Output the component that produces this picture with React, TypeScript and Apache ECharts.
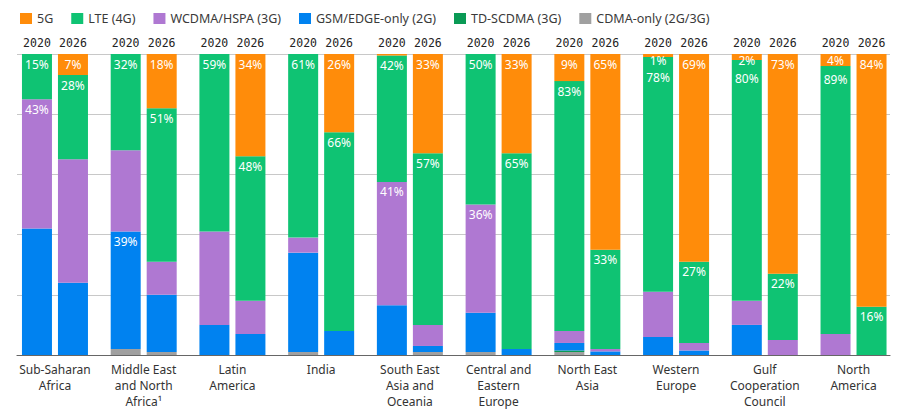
import React, { useEffect, useRef } from "react";
import * as echarts from "echarts";

// Regions along the x axis
const regions = [
  "Sub-Saharan\nAfrica",
  "Middle East\nand North\nAfrica¹",
  "Latin\nAmerica",
  "India",
  "South East\nAsia and\nOceania",
  "Central and\nEastern\nEurope",
  "North East\nAsia",
  "Western\nEurope",
  "Gulf\nCooperation\nCouncil",
  "North\nAmerica",
];

const years = ["2020", "2026"];

// Subscription share by technology (%), 2020
const g5_2020 = [0, 0, 0, 0, 0.5, 0, 9, 1, 2, 4];
const lte_2020 = [15, 32, 59, 61, 42, 50, 83, 78, 80, 89];
const wcdma_2020 = [43, 27, 31, 5, 41, 36, 4, 15, 8, 7];
const gsm_2020 = [42, 39, 10, 33, 16.5, 13, 2.5, 6, 10, 0];
const td_2020 = [0, 0, 0, 0, 0, 0, 0.5, 0, 0, 0];
const cdma_2020 = [0, 2, 0, 1, 0, 1, 1, 0, 0, 0];

// Subscription share by technology (%), 2026
const g5_2026 = [7, 18, 34, 26, 33, 33, 65, 69, 73, 84];
const lte_2026 = [28, 51, 48, 66, 57, 65, 33, 27, 22, 16];
const wcdma_2026 = [41, 11, 11, 0, 7, 0, 0.8, 2.5, 5, 0];
const gsm_2026 = [24, 19, 7, 8, 2, 2, 1.2, 1.5, 0, 0];
const td_2026 = [0, 0, 0, 0, 0, 0, 0, 0, 0, 0];
const cdma_2026 = [0, 1, 0, 0, 1, 0, 0, 0, 0, 0];

// Which region indices carry a value label
const all = [0, 1, 2, 3, 4, 5, 6, 7, 8, 9];
const labelled_2020 = {
  g5: [6, 7, 8, 9],
  lte: all,
  wcdma: [0, 4, 5],
  gsm: [1],
  td: [] as number[],
  cdma: [] as number[],
};
const labelled_2026 = {
  g5: all,
  lte: all,
  wcdma: [] as number[],
  gsm: [] as number[],
  td: [] as number[],
  cdma: [] as number[],
};

// Small vertical nudges so neighbouring labels on thin segments don't collide
const nudge_2020: Record<string, Record<number, number>> = {
  g5: { 7: -4, 8: -3.5, 9: -3.5 },
  lte: { 7: 10, 8: 8, 9: 3.5 },
};

// Stack order, bottom to top
const techs = [
  { key: "cdma", name: "CDMA-only (2G/3G)", color: "#A0A0A0" },
  { key: "td", name: "TD-SCDMA (3G)", color: "#0A9A55" },
  { key: "gsm", name: "GSM/EDGE-only (2G)", color: "#0082F0" },
  { key: "wcdma", name: "WCDMA/HSPA (3G)", color: "#AF78D2" },
  { key: "lte", name: "LTE (4G)", color: "#0FC373" },
  { key: "g5", name: "5G", color: "#FF8C0A" },
];

const values: Record<string, Record<string, number[]>> = {
  "2020": { g5: g5_2020, lte: lte_2020, wcdma: wcdma_2020, gsm: gsm_2020, td: td_2020, cdma: cdma_2020 },
  "2026": { g5: g5_2026, lte: lte_2026, wcdma: wcdma_2026, gsm: gsm_2026, td: td_2026, cdma: cdma_2026 },
};
const labelled: Record<string, Record<string, number[]>> = {
  "2020": labelled_2020,
  "2026": labelled_2026,
};
const nudges: Record<string, Record<string, Record<number, number>>> = {
  "2020": nudge_2020,
  "2026": {},
};

const FONT = "'Noto Sans', 'Open Sans', sans-serif";
const BAR_W = 30;
const BAR_GAP = 6;

export default function App() {
  const ref = useRef<HTMLDivElement>(null);

  useEffect(() => {
    if (!ref.current) return;
    const chart = echarts.init(ref.current, null, { renderer: "svg" });

    const barSeries: any[] = [];
    years.forEach((year) => {
      techs.forEach((t) => {
        const shown = labelled[year][t.key];
        const nudge = (nudges[year][t.key] || {}) as Record<number, number>;
        barSeries.push({
          type: "bar",
          name: t.name,
          stack: year,
          xAxisIndex: 1,
          yAxisIndex: 1,
          barWidth: BAR_W,
          barGap: `${(BAR_GAP / BAR_W) * 100}%`,
          itemStyle: { color: t.color },
          label: {
            position: "insideTop",
            distance: 4,
            formatter: "{c}%",
            color: "#ffffff",
            fontSize: 12,
            fontFamily: FONT,
          },
          data: values[year][t.key].map((v, i) => ({
            value: v,
            label: {
              show: shown.includes(i),
              offset: [0, nudge[i] || 0],
            },
          })),
        });
      });
    });

    chart.setOption({
      animation: false,
      backgroundColor: "#ffffff",
      legend: {
        top: 7,
        left: 15,
        icon: "rect",
        itemWidth: 12,
        itemHeight: 11,
        itemGap: 18,
        selectedMode: false,
        textStyle: { fontSize: 12.5, color: "#3a3a3a", fontFamily: FONT },
        data: ["5G", "LTE (4G)", "WCDMA/HSPA (3G)", "GSM/EDGE-only (2G)", "TD-SCDMA (3G)", "CDMA-only (2G/3G)"],
      },
      grid: [
        // gridlines and baseline
        { left: 17, right: 10, top: 54, bottom: 56 },
        // bars
        { left: 10.6, right: 2.1, top: 54, bottom: 56 },
      ],
      xAxis: [
        {
          gridIndex: 0,
          type: "value",
          min: 0,
          max: 1,
          axisLine: { show: true, lineStyle: { color: "#666666", width: 1.2 } },
          axisTick: { show: false },
          axisLabel: { show: false },
          splitLine: { show: false },
        },
        {
          gridIndex: 1,
          type: "category",
          data: regions,
          axisLine: { show: false },
          axisTick: { show: false },
          axisLabel: {
            interval: 0,
            color: "#333333",
            fontSize: 12,
            lineHeight: 16,
            margin: 6,
            fontFamily: FONT,
          },
        },
      ],
      yAxis: [
        {
          gridIndex: 0,
          type: "value",
          min: 0,
          max: 100,
          interval: 20,
          axisLine: { show: false },
          axisTick: { show: false },
          axisLabel: { show: false },
          splitLine: { show: true, lineStyle: { color: "#c8c8c8", width: 1 } },
        },
        {
          gridIndex: 1,
          type: "value",
          min: 0,
          max: 100,
          show: false,
          splitLine: { show: false },
        },
      ],
      series: [
        ...barSeries,
        {
          // year captions above each pair of bars
          type: "custom",
          name: "years",
          xAxisIndex: 1,
          yAxisIndex: 1,
          silent: true,
          clip: false,
          z: 10,
          encode: { x: 0, y: 1 },
          data: regions.map((_, i) => [i, 100]),
          renderItem: (_params: any, api: any) => {
            const p = api.coord([api.value(0), api.value(1)]);
            const half = (BAR_W + BAR_GAP) / 2;
            return {
              type: "group",
              children: years.map((y, k) => ({
                type: "text",
                x: p[0] + (k === 0 ? -half : half),
                y: p[1] - 11,
                style: {
                  text: y,
                  align: "center",
                  verticalAlign: "middle",
                  fill: "#222222",
                  fontSize: 11.5,
                  fontFamily: "'DejaVu Sans Mono', monospace",
                },
              })),
            };
          },
        },
      ],
    });

    return () => chart.dispose();
  }, []);

  return (
    <div
      ref={ref}
      style={{ position: "fixed", left: 0, top: 0, width: 900, height: 411, background: "#fff" }}
    />
  );
}
